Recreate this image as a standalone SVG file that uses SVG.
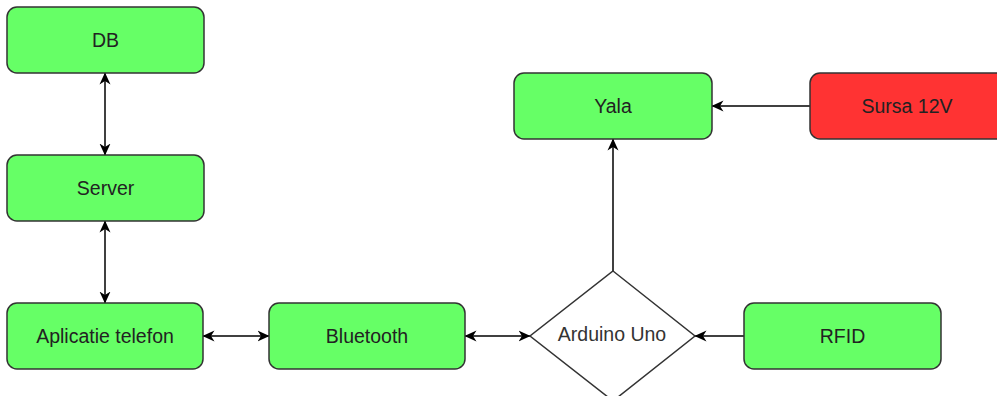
<svg xmlns="http://www.w3.org/2000/svg" width="997" height="396" viewBox="0 0 997 396">
<defs>
<marker id="arr" viewBox="0 0 12 12" refX="11.5" refY="6" markerWidth="12" markerHeight="12" markerUnits="userSpaceOnUse" orient="auto-start-reverse">
<path d="M0,0.5 L12,6 L0,11.5 L3.5,6 Z" fill="#000"/>
</marker>
</defs>
<style>
.box{stroke:#333;stroke-width:1.5}
.g{fill:#66FF66}
.r{fill:#FF3333}
.t{font-family:"Liberation Sans",Arial,sans-serif;font-size:19.5px;fill:#222;text-anchor:middle;dominant-baseline:central}
.c{stroke:#000;stroke-width:1.5;fill:none}
</style>
<rect width="997" height="396" fill="#fff"/>
<g id="connectors">
<line class="c" x1="105" y1="155" x2="105" y2="73" marker-start="url(#arr)" marker-end="url(#arr)"/>
<line class="c" x1="105" y1="303" x2="105" y2="221" marker-start="url(#arr)" marker-end="url(#arr)"/>
<line class="c" x1="203" y1="336" x2="269" y2="336" marker-start="url(#arr)" marker-end="url(#arr)"/>
<line class="c" x1="465" y1="336" x2="530" y2="336" marker-start="url(#arr)" marker-end="url(#arr)"/>
<line class="c" x1="744" y1="336" x2="695" y2="336" marker-end="url(#arr)"/>
<line class="c" x1="613" y1="271" x2="613" y2="139" marker-end="url(#arr)"/>
<line class="c" x1="810" y1="106" x2="712" y2="106" marker-end="url(#arr)"/>
</g>
<g id="db"><rect class="box g" x="7" y="7" width="197" height="66" rx="10"/><text class="t" x="105.5" y="40">DB</text></g>
<g id="server"><rect class="box g" x="7" y="155" width="197" height="66" rx="10"/><text class="t" x="105.5" y="188">Server</text></g>
<g id="aplicatie"><rect class="box g" x="7" y="303" width="196" height="66" rx="10"/><text class="t" x="105" y="336">Aplicatie telefon</text></g>
<g id="bluetooth"><rect class="box g" x="269" y="303" width="196" height="66" rx="10"/><text class="t" x="367" y="336">Bluetooth</text></g>
<g id="arduino"><polygon class="box" fill="#fff" points="613,271 695,336 613,401 530,336"/><text class="t" x="612" y="334" style="fill:#333">Arduino Uno</text></g>
<g id="rfid"><rect class="box g" x="744" y="303" width="197" height="66" rx="10"/><text class="t" x="842.5" y="336">RFID</text></g>
<g id="yala"><rect class="box g" x="514" y="73" width="198" height="66" rx="10"/><text class="t" x="613" y="106">Yala</text></g>
<g id="sursa"><rect class="box r" x="810" y="73" width="197" height="66" rx="10"/><text class="t" x="907" y="106">Sursa 12V</text></g>
</svg>
